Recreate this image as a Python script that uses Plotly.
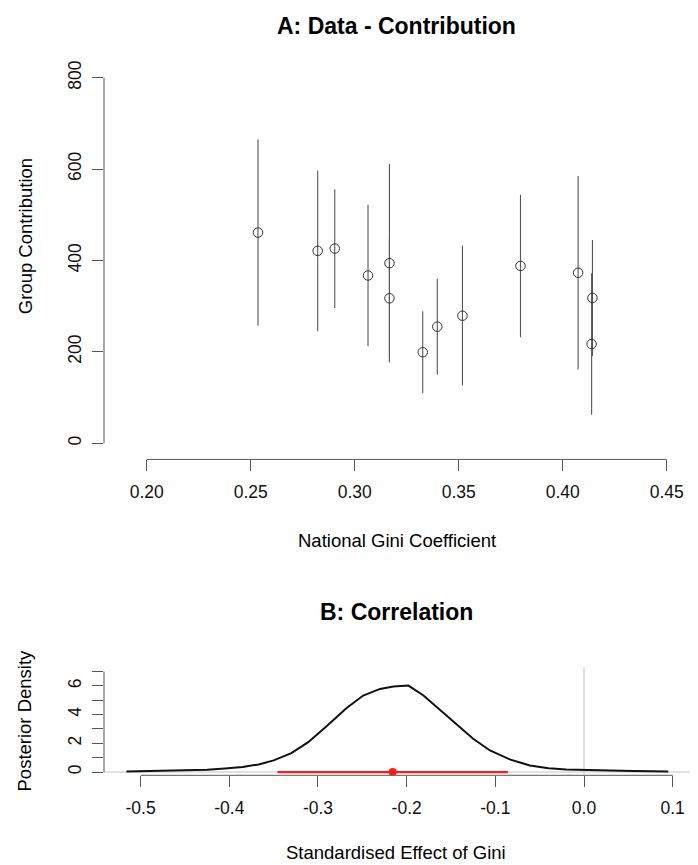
import plotly.graph_objects as go

# ---------------- data ----------------
gini = [0.2535, 0.2822, 0.2904, 0.3064, 0.3167, 0.3167, 0.3327, 0.3397,
        0.3518, 0.3797, 0.4074, 0.4143, 0.4139]
contribution = [461, 421, 426, 367, 394, 317, 199, 255, 279, 388, 373, 318, 217]
contribution_err = [204, 176, 130, 155, 217, 130, 90, 105, 153, 156, 212, 127, 155]

a_xticks = [0.20, 0.25, 0.30, 0.35, 0.40, 0.45]
a_xticklabels = ["0.20", "0.25", "0.30", "0.35", "0.40", "0.45"]
a_yticks = [0, 200, 400, 600, 800]

effect = [-0.516, -0.484, -0.45, -0.425, -0.405, -0.385, -0.367, -0.35, -0.33,
          -0.311, -0.29, -0.268, -0.249, -0.23, -0.215, -0.198, -0.181, -0.162,
          -0.144, -0.125, -0.106, -0.083, -0.061, -0.04, -0.02, 0.0, 0.03,
          0.056, 0.075, 0.095]
density = [0.03, 0.08, 0.12, 0.16, 0.25, 0.35, 0.53, 0.81, 1.32, 2.08, 3.2,
           4.45, 5.33, 5.79, 5.96, 6.02, 5.33, 4.3, 3.36, 2.32, 1.5, 0.86,
           0.46, 0.26, 0.17, 0.13, 0.1, 0.08, 0.05, 0.03]
ci_low, ci_high, ci_mid = -0.3457, -0.0858, -0.2158

b_xticks = [-0.5, -0.4, -0.3, -0.2, -0.1, 0.0, 0.1]
b_xticklabels = ["-0.5", "-0.4", "-0.3", "-0.2", "-0.1", "0.0", "0.1"]
b_yticks = [0, 1, 2, 3, 4, 5, 6, 7]
b_yticklabels = ["0", "", "2", "", "4", "", "6", ""]

# ---------------- layout helpers ----------------
W, H = 698, 865
def px(x):
    return x / W
def py(y):
    return 1 - y / H

FONT = "Liberation Sans, Arial, sans-serif"
AX = "#555555"
TICKFONT = dict(family=FONT, size=17.5, color="#111111")

fig = go.Figure()

# Panel A
fig.add_trace(go.Scatter(
    x=gini, y=contribution, mode="markers",
    marker=dict(symbol="circle-open", size=9.5, color="#333333", line=dict(width=1)),
    error_y=dict(type="data", array=contribution_err, symmetric=True,
                 width=0, thickness=1.1, color="#555555"),
    xaxis="x", yaxis="y", showlegend=False, hoverinfo="x+y"))

# Panel B
fig.add_trace(go.Scatter(
    x=effect, y=density, mode="lines", line=dict(color="#111111", width=2),
    xaxis="x2", yaxis="y2", showlegend=False))
fig.add_trace(go.Scatter(
    x=[ci_low, ci_high], y=[0, 0], mode="lines", line=dict(color="#ff1a1a", width=2.2),
    xaxis="x2", yaxis="y2", showlegend=False))
fig.add_trace(go.Scatter(
    x=[ci_mid], y=[0], mode="markers", marker=dict(color="#ff1a1a", size=8),
    xaxis="x2", yaxis="y2", showlegend=False))

common_x = dict(showgrid=False, zeroline=False, showline=False, ticks="outside",
                ticklen=11, tickwidth=1, tickcolor=AX, tickfont=TICKFONT,
                ticklabelstandoff=6, fixedrange=True)
common_y = dict(showgrid=False, zeroline=False, showline=False, ticks="outside",
                ticklen=11, tickwidth=1, tickcolor=AX, tickfont=TICKFONT,
                tickangle=-90, ticklabelstandoff=4, fixedrange=True)

fig.update_layout(
    width=W, height=H, margin=dict(l=0, r=0, t=0, b=0),
    paper_bgcolor="white", plot_bgcolor="white",
    xaxis=dict(domain=[px(104), px(690)], range=[0.17947, 0.46120], anchor="y",
               tickvals=a_xticks, ticktext=a_xticklabels, **common_x),
    yaxis=dict(domain=[py(458), py(60.3)], range=[-35.56, 832.0], anchor="x",
               tickvals=a_yticks, **common_y),
    xaxis2=dict(domain=[px(104), px(690)], range=[-0.5413, 0.11954], anchor="y2",
                tickvals=b_xticks, ticktext=b_xticklabels, **common_x),
    yaxis2=dict(domain=[py(775), py(666.7)], range=[-0.229, 7.29], anchor="x2",
                tickvals=b_yticks, ticktext=b_yticklabels, **common_y),
)

shapes = [
    # panel A axis lines
    dict(type="line", xref="paper", yref="y", x0=px(104), x1=px(104), y0=a_yticks[0], y1=a_yticks[-1],
         line=dict(color=AX, width=1)),
    dict(type="line", xref="x", yref="paper", x0=a_xticks[0], x1=a_xticks[-1], y0=py(458), y1=py(458),
         line=dict(color=AX, width=1)),
    # panel B reference lines
    dict(type="line", xref="x2 domain", yref="y2", x0=0, x1=1, y0=0, y1=0,
         line=dict(color="#c4c4c4", width=1), layer="below"),
    dict(type="line", xref="x2", yref="y2 domain", x0=0, x1=0, y0=0, y1=1,
         line=dict(color="#c4c4c4", width=1), layer="below"),
    # panel B axis lines
    dict(type="line", xref="paper", yref="y2", x0=px(104), x1=px(104), y0=b_yticks[0], y1=b_yticks[-1],
         line=dict(color=AX, width=1)),
    dict(type="line", xref="x2", yref="paper", x0=b_xticks[0], x1=b_xticks[-1], y0=py(775), y1=py(775),
         line=dict(color=AX, width=1)),
]
fig.update_layout(shapes=shapes)

def ann(text, x, y, size, angle=0, bold=False):
    return dict(text=f"<b>{text}</b>" if bold else text, x=px(x), y=py(y),
                xref="paper", yref="paper", showarrow=False, textangle=angle,
                xanchor="center", yanchor="middle",
                font=dict(family=FONT, size=size, color="#000000"))

fig.update_layout(annotations=[
    ann("A: Data - Contribution", 396, 23, 23, bold=True),
    ann("National Gini Coefficient", 397, 539, 18.5),
    ann("Group Contribution", 25, 234, 18.5, angle=-90),
    ann("B: Correlation", 396, 611, 23, bold=True),
    ann("Standardised Effect of Gini", 396, 852.5, 18.5),
    ann("Posterior Density", 25, 720, 18.5, angle=-90),
])

fig.write_html("out.html", config={"displayModeBar": False},
               post_script="document.body.style.margin='0';document.body.style.padding='0';"
                           "document.body.style.overflow='hidden';")
